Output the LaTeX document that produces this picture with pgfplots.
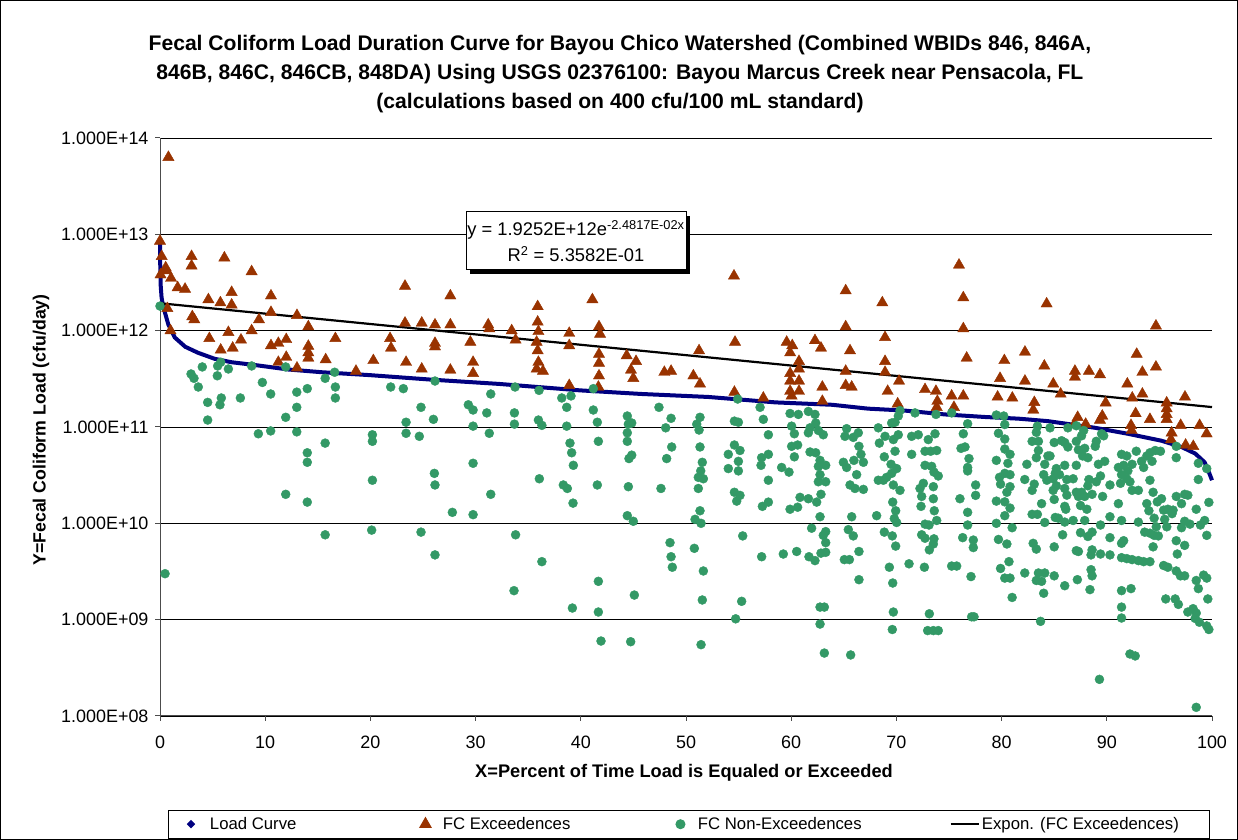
\documentclass[border=0pt]{standalone}
\usepackage{fontspec}
\setmainfont{Liberation Sans}
\usepackage{pgfplots}
\pgfplotsset{compat=1.18}
\usepackage{pgfplotstable}
\definecolor{navyc}{RGB}{0,0,128}
\definecolor{triC}{RGB}{153,51,0}
\definecolor{dotC}{RGB}{51,153,102}

\pgfplotstableread{
x y
0.8 6.3e13
0.0 8.5e12
0.16 5.9e12
0.54 4.5e12
0.05 3.8e12
0.63 4.2e12
1.05 3.5e12
1.68 2.8e12
2.38 2.7e12
0.7 1.7e12
1.0 1.0e12
3.0 5.9e12
3.0 4.7e12
6.12 5.7e12
8.71 4.1e12
4.6 2.1e12
5.74 1.95e12
6.81 2.5e12
6.81 1.85e12
3.07 1.4e12
3.26 1.3e12
10.55 2.3e12
10.55 1.55e12
9.41 1.3e12
8.71 1.0e12
6.5 9.6e11
4.69 8.3e11
7.7 8.0e11
6.91 6.6e11
5.77 6.3e11
10.55 7.0e11
11.25 7.4e11
12.0 8.1e11
12.0 5.3e11
11.25 4.7e11
13.02 1.44e12
14.1 1.1e12
13.02 4.1e11
14.1 6.9e11
14.1 5.9e11
14.1 5.2e11
16.67 8.3e11
15.75 5.0e11
18.63 3.8e11
20.28 4.9e11
21.87 8.3e11
21.96 6.6e11
23.29 2.9e12
23.29 1.2e12
23.39 4.7e11
24.88 1.2e12
24.88 4.0e11
26.14 1.15e12
26.14 7.4e11
26.14 6.8e11
27.6 2.3e12
27.6 1.15e12
27.6 3.9e11
29.5 7.6e11
29.76 4.7e11
29.76 3.6e11
31.2 1.15e12
31.3 1.05e12
33.43 1.0e12
33.8 8.0e11
35.9 1.78e12
35.9 1.23e12
35.97 9.8e11
35.8 7.6e11
35.9 6.2e11
35.97 4.7e11
35.8 4.0e11
36.4 3.8e11
38.9 9.4e11
38.9 7.0e11
38.9 2.7e11
41.1 2.1e12
41.73 1.1e12
41.83 9.2e11
41.73 5.7e11
41.73 4.6e11
41.73 3.4e11
41.67 2.6e11
44.36 5.5e11
45.25 4.8e11
44.77 3.9e11
44.99 3.2e11
47.94 3.7e11
48.58 3.8e11
50.7 3.4e11
51.33 2.8e11
51.24 6.2e11
54.56 3.7e12
54.66 7.6e11
54.6 2.3e11
57.35 2.0e11
59.57 7.6e11
60.1 7.0e11
59.9 5.9e11
60.74 4.8e11
60.74 4.0e11
59.9 3.6e11
59.9 3.0e11
60.74 3.0e11
60.74 2.35e11
59.9 2.35e11
60.04 2.1e11
62.26 7.9e11
62.83 6.6e11
62.96 2.6e11
62.96 1.85e11
65.18 2.6e12
65.18 1.1e12
65.59 6.2e11
65.18 3.8e11
65.18 2.7e11
65.75 2.6e11
68.66 1.95e12
68.92 8.5e11
68.92 4.8e11
68.92 3.7e11
70.25 3.0e11
69.17 2.35e11
70.12 1.74e11
72.72 2.45e11
73.76 2.35e11
73.89 1.85e11
73.83 1.6e11
75.25 2.1e11
75.47 1.6e11
75.95 4.8e12
76.36 2.2e12
76.36 1.05e12
76.68 5.2e11
76.36 2.1e11
79.62 2.05e11
79.85 3.2e11
80.26 4.9e11
81.02 2.0e11
82.22 6.0e11
82.22 3.0e11
83.11 1.8e11
83.01 1.5e11
84.06 4.3e11
84.28 1.9e12
84.91 2.8e11
85.61 2.2e11
86.97 3.8e11
86.97 3.3e11
88.3 3.8e11
89.35 3.5e11
87.23 1.26e11
86.91 1.07e11
87.99 1.07e11
89.57 1.3e11
89.35 1.18e11
89.89 1.78e11
91.95 2.8e11
92.42 2.0e11
92.84 5.7e11
93.38 3.7e11
93.38 2.2e11
92.74 1.38e11
92.3 1.04e11
92.36 9.2e10
94.1 1.2e11
94.67 1.12e12
94.67 4.2e11
95.69 1.78e11
95.69 1.55e11
95.69 1.35e11
95.69 1.2e11
96.16 8.7e10
96.1 7.4e10
97.02 1.04e11
97.43 2.05e11
97.49 6.5e10
98.22 6.3e10
98.82 1.04e11
99.49 8.5e10
}\exceed

\pgfplotstableread{
x y
0.0 1.8e12
0.48 3.0e9
2.95 3.55e11
3.23 3.2e11
4.02 4.2e11
3.64 2.6e11
4.53 1.8e11
4.53 1.18e11
5.45 3.4e11
5.48 4.3e11
5.77 4.7e11
6.5 4.0e11
5.83 2.0e11
5.7 1.7e11
7.64 2.0e11
8.71 4.3e11
9.73 2.9e11
10.52 2.2e11
9.35 8.5e10
10.52 9.1e10
11.95 4.2e11
11.95 1.26e11
11.95 2.0e10
13.0 2.3e11
13.0 1.6e11
13.0 8.9e10
14.0 2.5e11
14.0 5.4e10
14.0 4.3e10
14.0 1.66e10
15.7 3.2e11
15.7 6.8e10
15.7 7.6e9
16.6 3.7e11
16.67 2.6e11
16.67 2.0e11
20.19 8.3e10
20.19 7.1e10
20.19 2.8e10
20.12 8.5e9
21.93 2.6e11
23.13 2.5e11
23.39 1.12e11
23.39 8.6e10
24.65 8.0e10
24.81 1.6e11
24.81 8.1e9
25.99 1.2e11
26.14 3.0e11
26.08 3.3e10
26.14 2.5e10
26.14 4.7e9
27.79 1.3e10
29.31 1.7e11
29.76 1.5e11
29.76 1.02e11
29.76 4.2e10
29.76 1.23e10
31.44 2.2e11
31.06 1.4e11
31.3 8.6e10
31.44 2.0e10
33.75 2.6e11
33.69 1.4e11
33.69 1.07e11
33.8 7.6e9
33.65 2.0e9
36.03 2.4e11
35.97 1.18e11
36.3 1.04e11
36.06 2.9e10
36.3 4.0e9
38.19 2.0e11
38.66 1.6e11
38.66 1.02e11
38.97 6.8e10
39.13 5.4e10
39.29 4.0e10
38.34 2.5e10
38.72 2.3e10
39.26 1.62e10
39.2 1.32e9
39.07 2.1e11
41.19 2.5e11
41.19 1.5e11
41.57 1.12e11
41.67 7.1e10
41.57 2.5e10
41.67 2.5e9
41.67 1.2e9
41.92 6.0e8
44.42 1.3e11
44.52 1.07e11
44.42 8.7e10
44.42 7.1e10
44.84 1.1e11
44.84 5.1e10
44.58 4.7e10
44.52 2.4e10
44.42 1.2e10
44.99 1.05e10
45.09 1.8e9
44.74 5.9e8
47.43 1.6e11
48.07 9.8e10
48.58 1.23e11
48.64 6.2e10
48.16 4.7e10
47.62 2.3e10
48.48 6.3e9
48.58 4.5e9
48.7 3.5e9
51.02 1.07e11
51.33 1.26e11
51.24 9.3e10
51.33 6.2e10
51.55 4.3e10
51.4 3.5e10
51.17 3.0e10
51.65 2.9e10
51.17 2.3e10
51.33 1.35e10
50.86 1.1e10
51.43 1.0e10
50.79 5.5e9
51.65 3.2e9
51.55 1.6e9
51.43 5.5e8
54.91 1.95e11
54.6 1.15e11
54.98 1.12e11
54.6 6.5e10
55.13 5.7e10
54.02 5.2e10
54.98 4.4e10
54.02 3.7e10
54.98 3.5e10
54.6 2.1e10
55.13 1.95e10
54.82 1.7e10
55.39 7.4e9
55.29 1.55e9
54.72 1.02e9
57.04 1.6e11
57.35 1.2e11
57.83 8.3e10
57.83 5.2e10
57.19 4.8e10
57.13 4.0e10
57.83 2.8e10
57.83 1.66e10
57.26 1.5e10
57.19 4.5e9
59.25 4.8e9
59.09 3.8e10
59.89 1.38e11
60.68 1.35e11
61.63 1.45e11
60.04 1.02e11
60.3 8.5e10
60.04 6.3e10
60.61 6.5e10
60.3 4.9e10
59.79 3.4e10
60.84 1.86e10
59.89 1.4e10
60.61 1.47e10
60.52 5.1e9
61.63 1.8e10
61.94 8.9e9
61.69 4.5e9
62.26 4.1e9
62.26 1.35e11
62.33 1.1e11
61.79 9.8e10
62.58 9.2e10
63.05 8.3e10
61.63 8.7e10
61.79 5.5e10
62.33 5.4e10
62.74 4.5e10
63.28 4.0e10
62.58 3.9e10
62.74 3.2e10
63.28 2.7e10
62.58 2.7e10
62.83 2.0e10
62.42 1.66e10
62.74 1.17e10
63.28 8.2e9
63.28 6.3e9
63.05 7.5e9
62.83 4.9e9
63.28 5.0e9
62.74 1.35e9
63.15 1.35e9
62.74 9.0e8
63.15 4.5e8
65.27 9.6e10
65.11 8.0e10
65.9 7.8e10
66.38 8.7e10
66.44 6.3e10
66.63 5.2e10
65.96 4.5e10
64.96 4.3e10
66.86 4.3e10
65.27 3.8e10
66.22 3.2e10
65.59 2.5e10
66.06 2.3e10
66.86 2.25e10
65.75 1.17e10
65.43 8.6e9
65.9 7.4e9
66.44 5.1e9
65.05 4.2e9
65.53 4.2e9
66.44 2.6e9
65.65 4.3e8
68.28 9.8e10
68.38 6.8e10
68.92 8.0e10
69.55 1.1e11
69.87 1.12e11
70.18 1.3e11
70.34 1.48e11
70.18 8.3e10
69.71 7.4e10
69.87 5.6e10
68.85 4.9e10
69.49 4.1e10
70.02 3.7e10
69.55 3.3e10
69.07 3.0e10
68.28 2.8e10
68.76 2.8e10
69.71 2.5e10
70.34 2.2e10
69.65 1.66e10
69.93 1.35e10
69.8 1.12e10
70.02 1.02e10
68.12 1.2e10
68.85 8.1e9
69.61 7.4e9
69.93 5.8e9
69.33 3.5e9
69.65 2.4e9
69.71 1.2e9
69.61 7.9e8
71.2 3.8e9
71.45 8.0e10
72.08 8.3e10
71.77 1.4e11
71.45 5.2e10
72.72 5.6e10
73.25 5.6e10
73.83 5.7e10
73.03 7.4e10
73.67 8.5e10
72.72 4.0e10
73.35 3.9e10
73.57 3.4e10
73.98 3.1e10
72.56 2.6e10
72.24 2.3e10
73.51 2.4e10
72.4 1.9e10
73.51 1.8e10
72.34 1.5e10
73.6 1.35e10
73.83 1.07e10
72.72 9.8e9
73.1 9.6e9
72.4 7.6e9
72.72 7.0e9
73.57 6.9e9
73.51 6.1e9
73.13 5.3e9
72.66 3.5e9
73.13 1.15e9
72.97 7.7e8
73.51 7.7e8
73.98 7.7e8
73.76 1.35e11
75.25 1.4e11
76.77 1.08e11
76.36 8.5e10
76.14 6.0e10
76.52 6.2e10
76.9 4.7e10
76.77 3.8e10
76.77 3.5e10
77.53 2.5e10
77.53 1.95e10
76.04 1.8e10
76.77 1.3e10
76.77 9.6e9
76.3 7.1e9
77.31 6.7e9
77.31 5.6e9
75.25 3.6e9
75.73 3.6e9
77.09 2.8e9
77.15 1.07e9
77.38 1.07e9
79.5 1.33e11
80.2 1.3e11
80.3 1.06e11
79.7 8.6e10
80.3 7.5e10
80.3 5.9e10
80.8 5.2e10
79.5 4.5e10
80.6 4.2e10
80.3 3.3e10
80.8 3.2e10
79.8 3.0e10
79.9 2.55e10
80.8 2.4e10
80.5 2.1e10
79.5 1.7e10
80.3 1.67e10
80.8 1.44e10
80.3 1.2e10
79.5 1.0e10
81.0 9.0e9
79.7 6.8e9
80.5 6.1e9
80.7 4.0e9
79.9 3.4e9
80.3 2.7e9
80.8 2.7e9
81.0 1.7e9
82.2 2.85e10
82.4 4.1e10
82.9 7.1e10
83.5 7.1e10
83.3 8.8e10
83.4 1.02e11
83.5 5.7e10
83.3 4.8e10
84.1 4.1e10
83.1 2.55e10
82.9 2.2e10
84.4 5.0e10
84.0 3.2e10
84.3 2.8e10
83.8 1.6e10
82.9 1.24e10
83.4 1.24e10
84.1 1.02e10
83.0 6.2e9
83.3 5.4e9
82.2 3.05e9
83.5 3.05e9
83.3 2.55e9
84.1 3.05e9
83.8 2.5e9
84.0 1.88e9
83.7 9.6e8
84.6 9.8e10
85.0 6.9e10
86.0 6.9e10
86.3 6.2e10
85.7 7.2e10
87.1 7.1e10
84.6 5.0e10
85.1 3.3e10
85.2 3.7e10
85.5 3.2e10
84.9 2.9e10
86.0 4.0e10
86.2 2.85e10
86.8 2.9e10
85.2 2.45e10
84.9 2.2e10
86.0 2.3e10
87.1 2.1e10
86.2 1.96e10
85.0 1.77e10
86.0 1.5e10
86.1 1.4e10
85.1 1.15e10
85.4 1.13e10
86.0 1.03e10
86.8 1.07e10
85.8 7.6e9
85.0 5.7e9
87.1 5.2e9
87.3 5.1e9
85.0 2.85e9
86.0 2.25e9
87.2 2.6e9
86.3 9.8e10
87.1 1.03e11
87.8 9.2e10
87.6 8.1e10
87.3 5.8e10
87.9 6.0e10
87.7 5.0e10
88.2 4.8e10
88.9 6.3e10
89.0 7.1e10
89.5 8.5e10
89.7 8.1e10
89.2 4.1e10
87.1 4.0e10
88.3 2.85e10
88.2 2.45e10
89.0 2.7e10
89.4 3.1e10
89.8 4.4e10
87.6 2.1e10
87.9 1.9e10
87.3 1.9e10
88.6 2.0e10
89.6 1.9e10
87.5 1.53e10
88.1 1.4e10
87.9 1.07e10
88.6 8.1e9
87.5 8.0e9
88.2 7.3e9
88.6 5.3e9
88.5 4.7e9
89.4 4.8e9
90.3 4.7e9
89.4 9.6e9
90.3 1.17e10
88.5 3.3e9
88.6 2.85e9
88.4 2.05e9
89.3 2.4e8
90.3 2.5e10
91.4 5.2e10
91.9 5.0e10
91.1 3.8e10
91.6 4.0e10
92.0 3.5e10
92.4 4.1e10
92.8 5.6e10
91.4 3.2e10
91.9 2.9e10
92.2 2.7e10
91.3 2.6e10
92.4 2.2e10
93.0 2.2e10
91.1 1.6e10
91.4 1.07e10
93.0 1.03e10
90.3 7.1e9
91.6 6.6e9
91.4 6.2e9
91.4 4.4e9
91.9 4.3e9
92.4 4.2e9
93.0 4.1e9
93.5 4.0e9
94.1 4.0e9
91.4 2.0e9
92.3 2.1e9
91.4 1.35e9
91.4 1.04e9
92.2 4.4e8
92.7 4.2e8
93.3 4.4e10
93.8 5.0e10
94.1 5.4e10
94.6 5.7e10
95.1 5.6e10
94.3 4.4e10
93.5 3.8e10
94.1 2.8e10
94.4 2.1e10
93.8 1.6e10
94.0 1.35e10
93.6 8.1e9
94.1 7.9e9
94.5 7.5e9
94.9 7.4e9
94.5 1.13e10
94.7 9.2e9
95.2 1.8e10
94.8 1.67e10
95.4 1.37e10
95.5 1.1e10
95.7 9.2e9
94.4 5.7e9
95.4 3.65e9
95.8 3.5e9
95.6 1.64e9
96.6 3.2e9
97.0 2.85e9
96.6 6.3e10
96.6 4.8e10
95.8 1.4e10
96.2 1.26e10
96.3 1.37e10
96.6 1.9e10
97.1 1.6e10
97.4 2.0e10
97.7 1.96e10
97.4 1.05e10
97.9 9.8e9
97.1 9.0e9
96.6 6.6e9
97.4 5.9e9
96.7 4.8e9
97.4 2.85e9
96.5 1.64e9
96.8 1.44e9
97.7 1.2e9
98.2 1.3e9
98.5 1.17e9
98.4 1.03e9
98.5 2.55e9
98.7 2.1e9
99.2 2.9e9
99.5 2.7e9
98.5 1.23e8
98.7 4.2e10
99.5 3.7e10
98.7 2.85e10
99.7 1.65e10
98.5 1.4e10
99.3 1.07e10
98.9 9.6e9
99.5 7.5e9
99.6 1.64e9
98.8 9.4e8
99.5 8.6e8
99.7 7.9e8
}\nonexceed

\begin{document}
\begin{tikzpicture}[x=1bp,y=1bp]
\draw[black, line width=1.2bp] (0.6,0.6) rectangle (1237.4,839.4);
\begin{axis}[
  at={(160bp,124bp)}, anchor=south west,
  scale only axis, width=1052bp, height=578bp,
  xmin=0, xmax=100, ymin=1e8, ymax=1e14, ymode=log,
  axis lines=left,
  axis line style={-, draw=black!70, line width=1bp},
  xtick={0,10,...,100},
  xticklabels={0,10,20,30,40,50,60,70,80,90,100},
  ytick={1e8,1e9,1e10,1e11,1e12,1e13,1e14},
  yticklabels={1.000E+08,1.000E+09,1.000E+10,1.000E+11,1.000E+12,1.000E+13,1.000E+14},
  yminorticks=false, xminorticks=false,
  tick align=outside, major tick length=5bp,
  tick style={black!70, line width=1bp},
  ymajorgrids, grid style={black, line width=0.9bp},
  ticklabel style={font=\fontsize{18}{21}\selectfont},
  xticklabel style={yshift=-11bp},
  yticklabel style={xshift=-3bp},
  clip=false,
  legend columns=4,
  legend style={at={(0.0076,-0.1625)}, anchor=north west, draw=black, line width=1bp,
    inner xsep=12bp, inner ysep=5bp,
    font=\fontsize{16.8}{20}\selectfont, cells={anchor=west}},
]
\addplot[navyc, line width=4bp,
  legend image code/.code={\path (0bp,-4bp) (17bp,4bp); \fill[navyc] (8.5bp,0bp) circle (1.4bp);}]
  coordinates {(0,9e12) (0.02,5e12) (0.06,3e12) (0.15,2.2e12) (0.3,1.8e12) (0.5,1.5e12) (0.8,1.15e12) (1.0,1.05e12) (1.4,8.5e11) (2.4,6.8e11) (3.6,5.9e11) (5.2,5.1e11) (6.8,4.7e11) (9,4.4e11) (12.2,3.95e11) (15.4,3.7e11) (20,3.45e11) (25.8,3.1e11) (32.2,2.8e11) (39.9,2.4e11) (45.8,2.2e11) (52.1,2.05e11) (58.5,1.8e11) (63.9,1.7e11) (67.3,1.55e11) (70.8,1.48e11) (74.6,1.35e11) (78.4,1.27e11) (81.6,1.22e11) (84.4,1.15e11) (88.9,9.8e10) (92,8.5e10) (95.2,7.2e10) (97.1,6.2e10) (98.4,5.3e10) (99.3,4.3e10) (99.7,3.4e10) (100,2.8e10)};
\addlegendentry{\makebox[211bp][l]{\hspace{6.5bp}Load Curve}}
\addplot[only marks, mark=triangle*, mark size=6.5bp, mark options={fill=triC, draw=triC},
  legend image code/.code={\path (0bp,-4bp) (17bp,4bp); \draw[triC, fill=triC, mark=triangle*, mark size=6.5bp] plot coordinates {(8.5bp,0bp)};}]
  table {\exceed};
\addlegendentry{\makebox[233bp][l]{\hspace{6.5bp}FC Exceedences}}
\addplot[only marks, mark=*, mark size=4.5bp, mark options={fill=dotC, draw=dotC},
  legend image code/.code={\path (0bp,-4bp) (17bp,4bp); \draw[dotC, fill=dotC, mark=*, mark size=4.5bp] plot coordinates {(8.5bp,0bp)};}]
  table {\nonexceed};
\addlegendentry{\makebox[256bp][l]{\hspace{6.5bp}FC Non-Exceedences}}
\addplot[black, line width=2.2bp,
  legend image code/.code={\draw[black, line width=2.5bp] (0bp,0bp) -- (28bp,0bp);}]
  coordinates {(0,1.9252e12) (100,1.609e11)};
\addlegendentry{\makebox[214bp][l]{Expon. (FC Exceedences)}}
\end{axis}
% trendline label box
\fill[black] (470,566) rectangle (690,624);
\node[draw=black, line width=1bp, fill=white, minimum width=220bp, minimum height=58bp,
  inner sep=0pt, align=center, font=\fontsize{18.4}{26}\selectfont] at (576,599)
  {y = 1.9252E+12e\textsuperscript{-2.4817E-02x}\\R\textsuperscript{2} = 5.3582E-01};
% title
\node[align=center, font=\fontsize{21.2}{29}\selectfont\bfseries] at (620,766)
  {Fecal Coliform Load Duration Curve for Bayou Chico Watershed (Combined WBIDs 846, 846A,\\
   846B, 846C, 846CB, 848DA) Using USGS 02376100: Bayou Marcus Creek near Pensacola, FL\\
   (calculations based on 400 cfu/100 mL standard)};
% axis labels
\node[font=\fontsize{18.3}{22}\selectfont\bfseries] at (684,67) {X=Percent of Time Load is Equaled or Exceeded};
\node[rotate=90, font=\fontsize{17.8}{21}\selectfont\bfseries] at (41,410) {Y=Fecal Coliform Load (cfu/day)};
\pgfresetboundingbox
\path[use as bounding box] (0,0) rectangle (1238,840);
\end{tikzpicture}
\end{document}
